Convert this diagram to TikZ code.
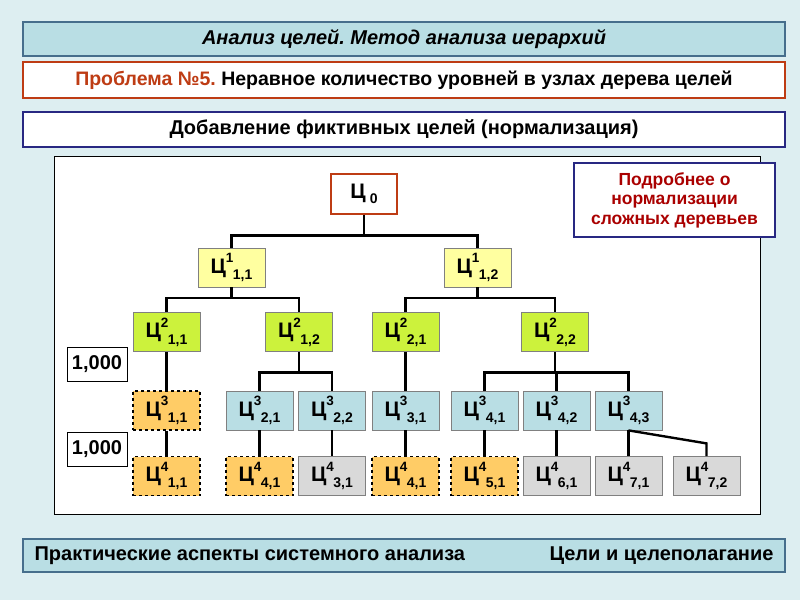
\documentclass[tikz,border=0pt]{standalone}
\usepackage{fontspec}
\setmainfont{Liberation Sans}
\frenchspacing
\definecolor{pagebg}{RGB}{221,238,241}
\definecolor{headbg}{RGB}{185,222,228}
\definecolor{headline}{RGB}{70,110,140}
\definecolor{probred}{RGB}{190,60,20}
\definecolor{navy}{RGB}{40,40,130}
\definecolor{notered}{RGB}{170,0,0}
\definecolor{lvlone}{RGB}{255,255,160}
\definecolor{lvltwo}{RGB}{204,242,60}
\definecolor{lvlthree}{RGB}{185,222,228}
\definecolor{fakegoal}{RGB}{255,204,102}
\definecolor{leafgoal}{RGB}{217,217,217}
\newcommand{\goal}[2]{Ц\raisebox{0.5em}{\fontsize{13.5}{13.5}\selectfont #1}\kern-0.5pt\raisebox{-0.3em}{\fontsize{14}{14}\selectfont #2}}
\begin{document}
\begin{tikzpicture}
		[x=1pt, y=-1pt,
		band/.style={draw, line width=1.2pt, minimum width=762, inner sep=0},
		goalbox/.style={draw=gray, line width=0.8pt, minimum width=67, minimum height=39,
			inner sep=0, font=\bfseries\fontsize{21}{21}\selectfont},
		fake/.style={goalbox, fill=fakegoal, draw=black, dashed, line width=1.3pt},
		weight/.style={draw, line width=0.8pt, fill=white, minimum width=60, minimum height=34,
			inner sep=0, font=\bfseries\fontsize{20}{20}\selectfont},
		edge/.style={line width=2.4pt}]
		\fill[pagebg] (0,0) rectangle (800,600);
		% headers
		\node[band, fill=headbg, draw=headline, minimum height=34,
			font=\bfseries\itshape\fontsize{20}{20}\selectfont] (title) at (404,39)
			{Анализ целей. Метод анализа иерархий};
		\node[band, fill=white, draw=probred, minimum height=36,
			font=\bfseries\fontsize{19.5}{19.5}\selectfont] (problem) at (404,80)
			{\textcolor{probred}{Проблема №5.} Неравное количество уровней в узлах дерева целей};
		\node[band, fill=white, draw=navy, minimum height=35,
			font=\bfseries\fontsize{20}{20}\selectfont] (adding) at (404,129.5)
			{Добавление фиктивных целей (нормализация)};
		% panel
		\node[draw, fill=white, line width=0.8pt, minimum width=706, minimum height=358,
			inner sep=0] (panel) at (407,335) {};
		\node[draw=navy, fill=white, line width=1.5pt, minimum width=201, minimum height=74,
			align=center, text=notered, font=\bfseries\fontsize{17.5}{19.5}\selectfont] (note) at (674.5,200)
			{Подробнее о\\нормализации\\сложных деревьев};
		% tree
		\node[goalbox, fill=white, draw=probred, line width=1.6pt, minimum width=66, minimum height=40] (root) at (364,194)
			{Ц\kern4pt\raisebox{-0.25em}{\fontsize{14}{14}\selectfont 0}};
		\node[goalbox, fill=lvlone] (g11) at (231.5,267.5) {\goal{1}{1,1}};
		\node[goalbox, fill=lvlone] (g12) at (477.5,267.5) {\goal{1}{1,2}};
		\node[goalbox, fill=lvltwo] (g211) at (166.5,332) {\goal{2}{1,1}};
		\node[goalbox, fill=lvltwo] (g212) at (299,332) {\goal{2}{1,2}};
		\node[goalbox, fill=lvltwo] (g221) at (405.5,332) {\goal{2}{2,1}};
		\node[goalbox, fill=lvltwo] (g222) at (555,332) {\goal{2}{2,2}};
		\node[fake] (g311) at (166.5,410.5) {\goal{3}{1,1}};
		\node[goalbox, fill=lvlthree] (g321) at (259.5,410.5) {\goal{3}{2,1}};
		\node[goalbox, fill=lvlthree] (g322) at (332,410.5) {\goal{3}{2,2}};
		\node[goalbox, fill=lvlthree] (g331) at (405.5,410.5) {\goal{3}{3,1}};
		\node[goalbox, fill=lvlthree] (g341) at (484.5,410.5) {\goal{3}{4,1}};
		\node[goalbox, fill=lvlthree] (g342) at (556.5,410.5) {\goal{3}{4,2}};
		\node[goalbox, fill=lvlthree] (g343) at (628.5,410.5) {\goal{3}{4,3}};
		\node[fake] (g411) at (166.5,476) {\goal{4}{1,1}};
		\node[fake] (g441a) at (259.5,476) {\goal{4}{4,1}};
		\node[goalbox, fill=leafgoal] (g431) at (332,476) {\goal{4}{3,1}};
		\node[fake] (g441b) at (405.5,476) {\goal{4}{4,1}};
		\node[fake] (g451) at (484.5,476) {\goal{4}{5,1}};
		\node[goalbox, fill=leafgoal] (g461) at (556.5,476) {\goal{4}{6,1}};
		\node[goalbox, fill=leafgoal] (g471) at (628.5,476) {\goal{4}{7,1}};
		\node[goalbox, fill=leafgoal] (g472) at (706.5,476) {\goal{4}{7,2}};
		% weights
		\node[weight] (w1) at (97,364) {1,000};
		\node[weight] (w2) at (97,449) {1,000};
		% connectors
		\draw[edge] (root.south) -- ++(0,22);
		\draw[edge] (g11.north) -- ++(0,-12) -| (g12.north);
		\draw[edge] (g11.south) -- ++(0,11);
		\draw[edge] (g211.north) -- ++(0,-14) -| (g212.north);
		\draw[edge] (g12.south) -- ++(0,11);
		\draw[edge] (g221.north) -- ++(0,-14) -| (g222.north);
		\draw[edge] (g211.south) -- (g311.north);
		\draw[edge] (g212.south) -- ++(0,21);
		\draw[edge] (g321.north) -- ++(0,-18) -| (g322.north);
		\draw[edge] (g221.south) -- (g331.north);
		\draw[edge] (g222.south) -- ++(0,21);
		\draw[edge] (g341.north) -- ++(0,-18) -| (g343.north);
		\draw[edge] (g342.north) -- ++(0,-18);
		\draw[edge] (g311.south) -- (g411.north);
		\draw[edge] (g321.south) -- (g441a.north);
		\draw[edge] (g322.south) -- (g431.north);
		\draw[edge] (g331.south) -- (g441b.north);
		\draw[edge] (g341.south) -- (g451.north);
		\draw[edge] (g342.south) -- (g461.north);
		\draw[edge] (g343.south) -- (g471.north);
		\draw[edge] (g343.south) -- ++(78,13) -| (g472.north);
		% footer
		\node[band, fill=headbg, draw=headline, minimum height=33] (footer) at (404,555.5) {};
		\node[anchor=west, font=\bfseries\fontsize{20}{20}\selectfont] (topic) at (31,555.5)
			{Практические аспекты системного анализа};
		\node[anchor=east, font=\bfseries\fontsize{20}{20}\selectfont] (chapter) at (777,555.5)
			{Цели и целеполагание};
	\end{tikzpicture}
\end{document}
